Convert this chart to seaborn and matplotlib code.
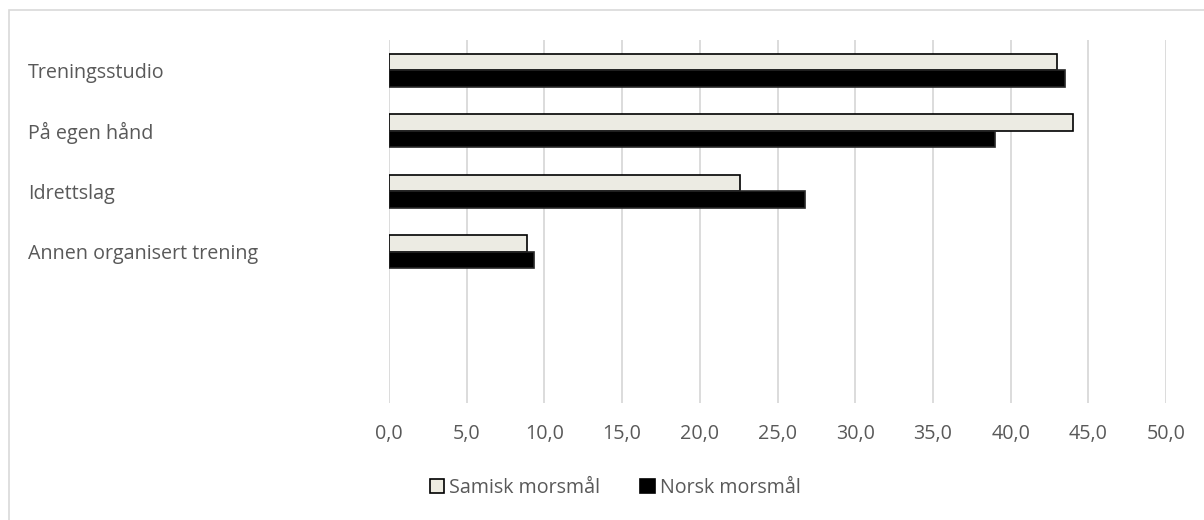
import numpy as np
import pandas as pd
import matplotlib
matplotlib.use("Agg")
import matplotlib.pyplot as plt
from matplotlib.patches import Rectangle, Patch
from matplotlib.ticker import FuncFormatter
import seaborn as sns

# Data
categories = ["Treningsstudio", "På egen hånd", "Idrettslag", "Annen organisert trening"]
empty_slots = ["", " "]
samisk = [43.0, 44.0, 22.6, 8.9]
norsk = [43.5, 39.0, 26.8, 9.3]
series = ["Samisk morsmål", "Norsk morsmål"]
xticks = np.arange(0, 51, 5)

df = pd.DataFrame({
    "kategori": categories * 2,
    "gruppe": [series[0]] * 4 + [series[1]] * 4,
    "andel": samisk + norsk,
})

sns.set_style("white")
plt.rcParams["font.family"] = ["Open Sans", "DejaVu Sans"]
TEXT = "#595959"
FS = 14.2
colors = {series[0]: "#EEECE1", series[1]: "#000000"}

W, H = 1204, 520
fig = plt.figure(figsize=(W / 100, H / 100), dpi=100)
ax = fig.add_axes([389 / W, 1 - 403 / H, (1166 - 389) / W, (403 - 40) / H])

sns.barplot(data=df, y="kategori", x="andel", hue="gruppe", order=categories + empty_slots,
            hue_order=series, palette=colors, orient="h", width=0.54, ax=ax,
            edgecolor="black", linewidth=1.2, legend=False)

# black bars get a slightly softer outline
for p in ax.patches:
    if p.get_facecolor()[0] < 0.1:
        p.set_edgecolor("#262626")

ax.set_xlim(0, 50)
ax.set_xticks(xticks)
ax.xaxis.set_major_formatter(FuncFormatter(lambda v, _: f"{v:.1f}".replace(".", ",")))
ax.grid(axis="x", color="#D9D9D9", linewidth=1.3)
ax.set_axisbelow(True)
for s in ax.spines.values():
    s.set_visible(False)
ax.set_xlabel("")
ax.set_ylabel("")
ax.tick_params(axis="x", length=0, pad=15, labelsize=FS, labelcolor=TEXT)
ax.tick_params(axis="y", length=0, pad=(389 - 28) * 0.72, labelsize=FS, labelcolor=TEXT)
for lab in ax.get_yticklabels():
    lab.set_ha("left")

handles = [Patch(facecolor=colors[s], edgecolor="black", linewidth=1.2, label=s) for s in series]
fig.legend(handles=handles, loc="center", bbox_to_anchor=(615 / W, 1 - 488 / H), ncol=2,
           frameon=False, fontsize=FS, labelcolor=TEXT, handlelength=0.75, handleheight=0.75,
           handletextpad=0.25, columnspacing=2.0)

# outer chart frame (only top and left edges visible in the reference)
fig.patches.append(Rectangle((9 / W, -0.1), 1.2, (H - 10) / H + 0.1, transform=fig.transFigure,
                             fill=False, edgecolor="#D9D9D9", linewidth=1.2))

fig.savefig("out.png", dpi=100, facecolor="white")
